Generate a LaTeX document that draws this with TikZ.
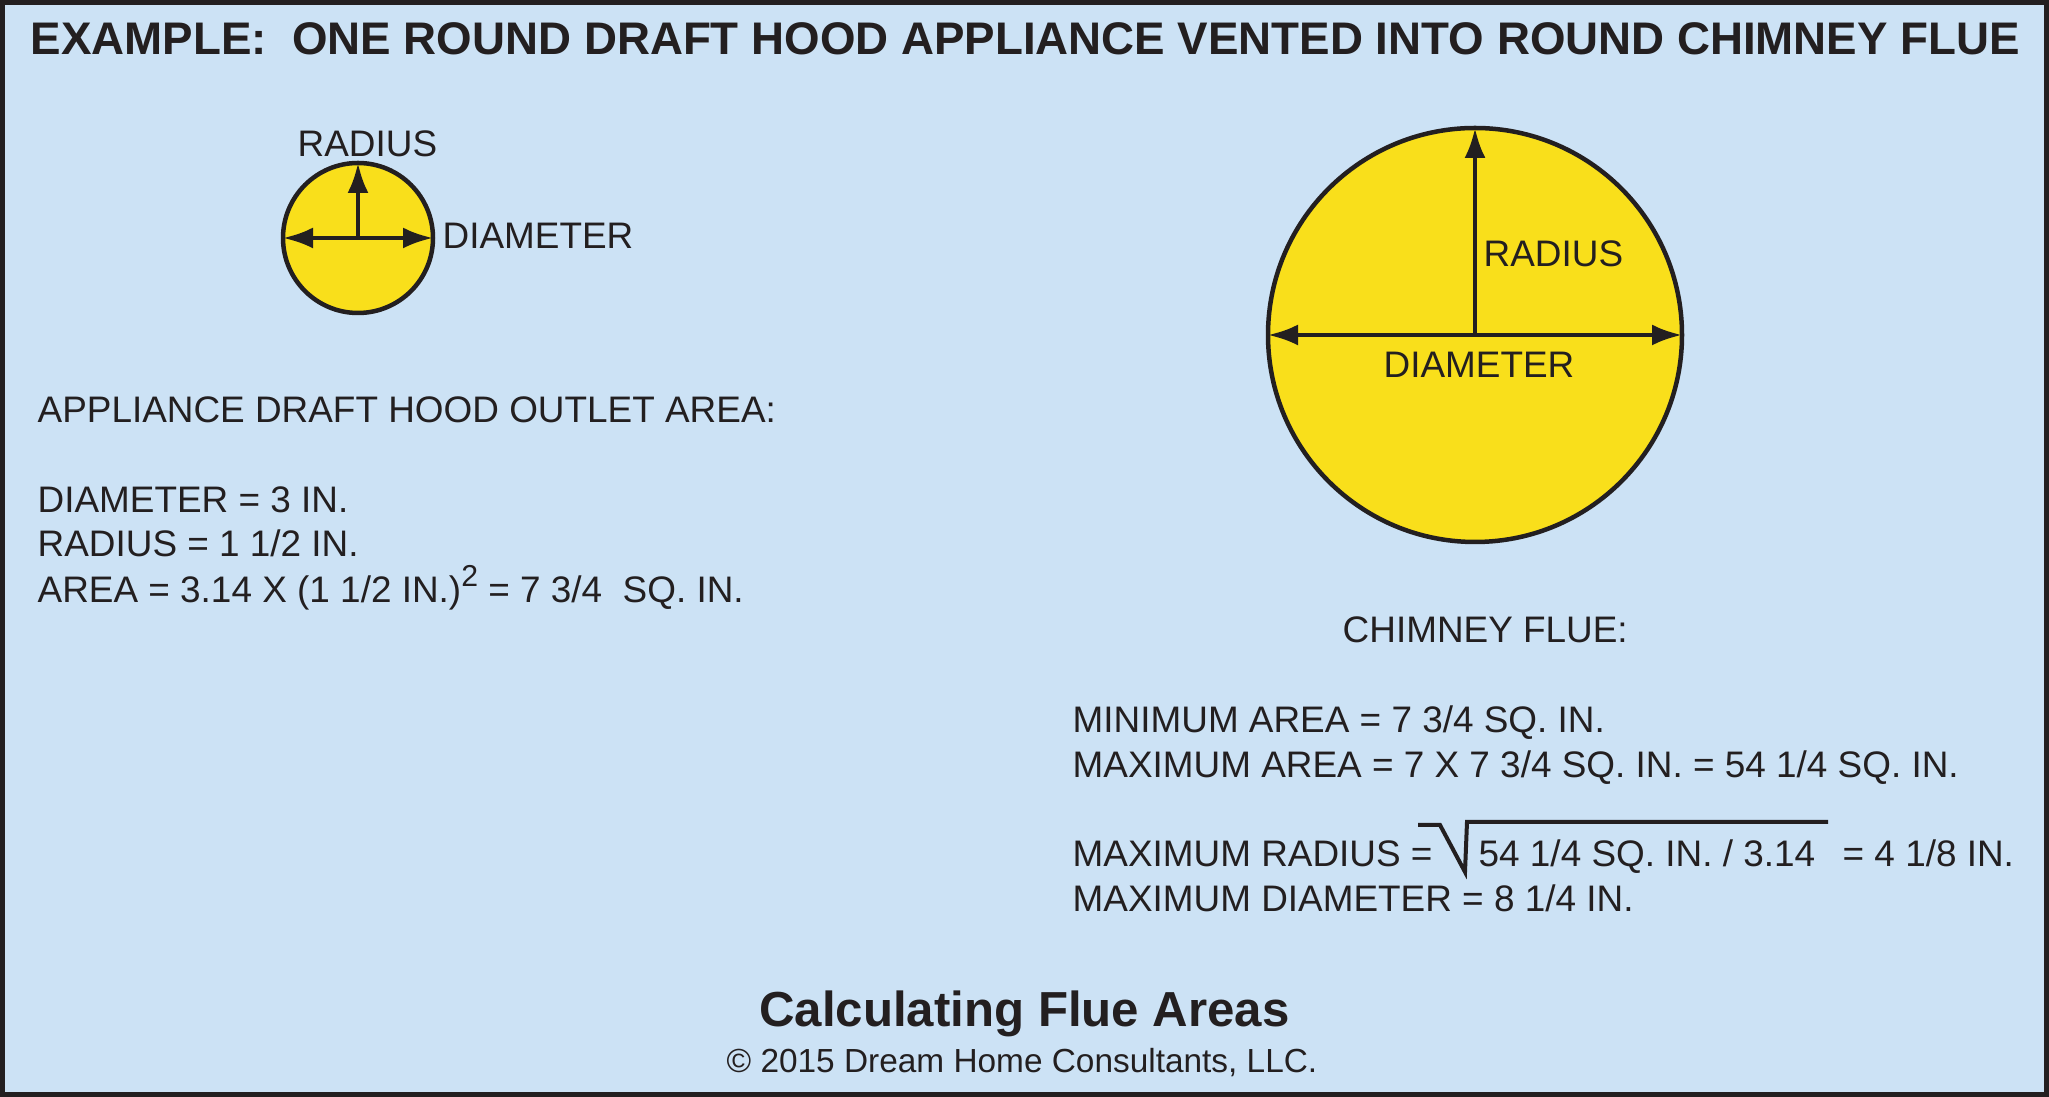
\documentclass[tikz,border=0pt]{standalone}
\usepackage{fontspec}
\setmainfont{Liberation Sans}
\usepackage{tikz}
\usetikzlibrary{arrows.meta}
\definecolor{hoodblue}{HTML}{CCE2F5}
\definecolor{flueyellow}{HTML}{F9DF1B}
\definecolor{inkdark}{HTML}{231F20}

\begin{document}
\begin{tikzpicture}[scale=1,
  >={Latex[length=3mm,width=2.1mm]},
  txt/.style={anchor=base west, inner sep=0pt, text=inkdark, font=\fontsize{10.5}{12.6}\selectfont},
  flue/.style={circle, draw=inkdark, fill=flueyellow, line width=0.045cm, inner sep=0pt, outer sep=0pt},
  dim/.style={draw=inkdark, line width=0.04cm}]
\useasboundingbox (0,0) rectangle (20.49,10.97);
\fill [hoodblue] (0,0) rectangle (20.49,10.97);
\draw [inkdark, line width=0.1cm] (0,0) rectangle (20.49,10.97);
\node [txt, font=\bfseries\fontsize{13}{15.6}\selectfont] (title) at (0.30,10.42) {EXAMPLE:\ \ ONE ROUND DRAFT HOOD APPLIANCE VENTED INTO ROUND CHIMNEY FLUE};

% appliance outlet
\node [flue, minimum size=1.5cm] (hood) at (3.58,8.59) {};
\draw [dim, <->] (hood.west) -- (hood.east);
\draw [dim, ->] (hood.center) -- (hood.north);
\node [txt] (hoodradius) at (2.97,9.40) {RADIUS};
\node [txt] (hooddiam) at (4.42,8.48) {DIAMETER};

\node [txt] (hoodhead) at (0.37,6.74) {APPLIANCE DRAFT HOOD OUTLET AREA:};
\node [txt] (hooddval) at (0.37,5.84) {DIAMETER = 3 IN.};
\node [txt] (hoodrval) at (0.37,5.40) {RADIUS = 1 1/2 IN.};
\node [txt] (hoodarea) at (0.37,4.94) {AREA = 3.14 X (1 1/2 IN.)\raisebox{0.45em}{\fontsize{8.6}{9}\selectfont 2} = 7 3/4\ \ SQ. IN.};

% chimney flue
\node [flue, minimum size=4.14cm] (chimney) at (14.75,7.62) {};
\draw [dim, <->] (chimney.west) -- (chimney.east);
\draw [dim, ->] (chimney.center) -- (chimney.north);
\node [txt] (flueradius) at (14.83,8.30) {RADIUS};
\node [txt, anchor=base] (fluediam) at (14.79,7.19) {DIAMETER};

\node [txt] (fluehead) at (13.42,4.54) {CHIMNEY FLUE:};
\node [txt] (fluemin) at (10.72,3.64) {MINIMUM AREA = 7 3/4 SQ. IN.};
\node [txt] (fluemax) at (10.72,3.19) {MAXIMUM AREA = 7 X 7 3/4 SQ. IN. = 54 1/4 SQ. IN.};
\node [txt] (fluerad) at (10.72,2.30) {MAXIMUM RADIUS =};
\node [txt] (flueroot) at (14.78,2.30) {54 1/4 SQ. IN. / 3.14};
\node [txt] (fluerval) at (18.42,2.30) {= 4 1/8 IN.};
\draw [inkdark, line width=0.04cm] (14.18,2.72) -- (14.40,2.72) -- (14.65,2.25) -- (14.67,2.75) -- (18.28,2.75);
\node [txt] (fluediamval) at (10.72,1.85) {MAXIMUM DIAMETER = 8 1/4 IN.};

% caption
\node [txt, anchor=base, font=\bfseries\fontsize{14}{16.8}\selectfont] (caption) at (10.245,0.70) {Calculating Flue Areas};
\node [txt, anchor=base, font=\fontsize{9.5}{11.4}\selectfont] (credit) at (10.22,0.24) {© 2015 Dream Home Consultants, LLC.};
\end{tikzpicture}
\end{document}
